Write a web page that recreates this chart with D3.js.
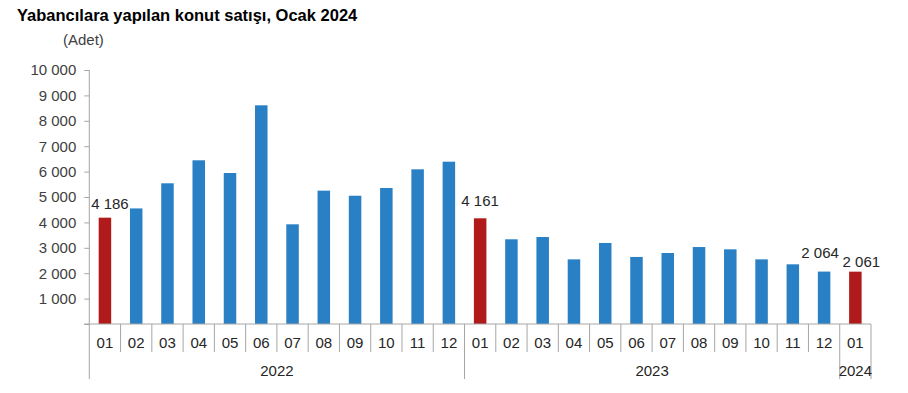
<!DOCTYPE html>
<html lang="tr">
<head>
  <meta charset="UTF-8">
  <title>Yabancılara yapılan konut satışı</title>
  <script src="https://d3js.org/d3.v7.min.js"></script>
  <style>
    body { margin: 0; background: #fff; }
    text { font-family: "Liberation Sans", Arial, sans-serif; }
  </style>
</head>
<body>
  <script>
    // data
    var months = ["01", "02", "03", "04", "05", "06", "07", "08", "09", "10", "11", "12",
      "01", "02", "03", "04", "05", "06", "07", "08", "09", "10", "11", "12", "01"]
    var years = ["2022", "2023", "2024"]
    var yearOf = [0, 0, 0, 0, 0, 0, 0, 0, 0, 0, 0, 0, 1, 1, 1, 1, 1, 1, 1, 1, 1, 1, 1, 1, 2]
    var sales = [4186, 4550, 5540, 6445, 5945, 8610, 3925, 5250, 5050, 5355, 6090, 6390,
      4161, 3335, 3425, 2545, 3190, 2640, 2795, 3030, 2940, 2545, 2350, 2064, 2061]
    var highlighted = [0, 12, 24]
    var labelled = [0, 12, 23, 24]
    var yTicks = [0, 1000, 2000, 3000, 4000, 5000, 6000, 7000, 8000, 9000, 10000]

    var w = 908, h = 393
    var margin = { top: 70, left: 89.3, right: 37, bottom: 69 }
    var width = w - margin.left - margin.right
    var height = h - margin.top - margin.bottom

    var fmt = function (v) { return d3.format(",")(v).replace(/,/g, " ") }

    var svg = d3.select("body").append("svg")
      .attr("width", w)
      .attr("height", h)

    svg.append("text")
      .attr("x", 17).attr("y", 21)
      .attr("font-size", "16.5px").attr("font-weight", "bold").attr("fill", "#000")
      .text("Yabancılara yapılan konut satışı, Ocak 2024")

    svg.append("text")
      .attr("x", 63).attr("y", 45)
      .attr("font-size", "15px").attr("fill", "#404040")
      .text("(Adet)")

    var g = svg.append("g")
      .attr("transform", "translate(" + margin.left + "," + margin.top + ")")

    var idx = d3.range(months.length)
    var x = d3.scaleBand().domain(idx).range([0, width]).paddingInner(0.6).paddingOuter(0.3)
    var xb = d3.scaleBand().domain(idx).range([0, width])
    var y = d3.scaleLinear().domain([0, 10000]).range([height, 0])

    // y axis
    var yAxis = g.append("g")
      .call(d3.axisLeft(y).tickValues(yTicks).tickSize(5).tickPadding(8)
        .tickFormat(function (d) { return d === 0 ? "" : fmt(d) }))
    yAxis.selectAll("line, path").attr("stroke", "#a6a6a6")
    yAxis.select(".domain").attr("d", "M0," + height + "V0")
    yAxis.selectAll("text").attr("font-size", "15px").attr("fill", "#404040")
      .attr("font-family", "Liberation Sans, Arial, sans-serif")

    // bars
    g.selectAll(".bar")
      .data(sales)
      .enter().append("rect")
      .attr("class", "bar")
      .attr("x", function (d, i) { return x(i) })
      .attr("width", x.bandwidth())
      .attr("y", function (d) { return y(d) })
      .attr("height", function (d) { return height - y(d) })
      .attr("fill", function (d, i) { return highlighted.indexOf(i) >= 0 ? "#b01a1a" : "#2a80c4" })

    // value labels, nudged like the original to avoid overlap
    var nudge = { 0: [5, -9], 12: [0, -12], 23: [-4, -14], 24: [6, -5] }
    g.selectAll(".lbl")
      .data(labelled)
      .enter().append("text")
      .attr("class", "lbl")
      .attr("x", function (i) { return x(i) + x.bandwidth() / 2 + nudge[i][0] })
      .attr("y", function (i) { return y(sales[i]) + nudge[i][1] })
      .attr("text-anchor", "middle")
      .attr("font-size", "15px").attr("fill", "#262626")
      .text(function (i) { return fmt(sales[i]) })

    // x axis: baseline, month separators, year separators
    var xa = g.append("g").attr("transform", "translate(0," + height + ")")
    xa.append("line").attr("x1", -5).attr("x2", width).attr("stroke", "#a6a6a6")
    xa.selectAll(".msep")
      .data(d3.range(months.length + 1))
      .enter().append("line")
      .attr("x1", function (i) { return i * xb.step() })
      .attr("x2", function (i) { return i * xb.step() })
      .attr("y1", 0)
      .attr("y2", function (i) {
        return (i === 0 || i === months.length || yearOf[i] !== yearOf[i - 1]) ? 55 : 28
      })
      .attr("stroke", "#a6a6a6")
    xa.selectAll(".mlbl")
      .data(months)
      .enter().append("text")
      .attr("x", function (d, i) { return xb(i) + xb.bandwidth() / 2 })
      .attr("y", 23.5)
      .attr("text-anchor", "middle")
      .attr("font-size", "15px").attr("fill", "#262626")
      .text(function (d) { return d })
    xa.selectAll(".ylbl")
      .data(years)
      .enter().append("text")
      .attr("x", function (d, k) {
        var members = idx.filter(function (i) { return yearOf[i] === k })
        return (xb(members[0]) + xb(members[members.length - 1]) + xb.bandwidth()) / 2
      })
      .attr("y", 51.5)
      .attr("text-anchor", "middle")
      .attr("font-size", "15px").attr("fill", "#262626")
      .text(function (d) { return d })
  </script>
</body>
</html>
